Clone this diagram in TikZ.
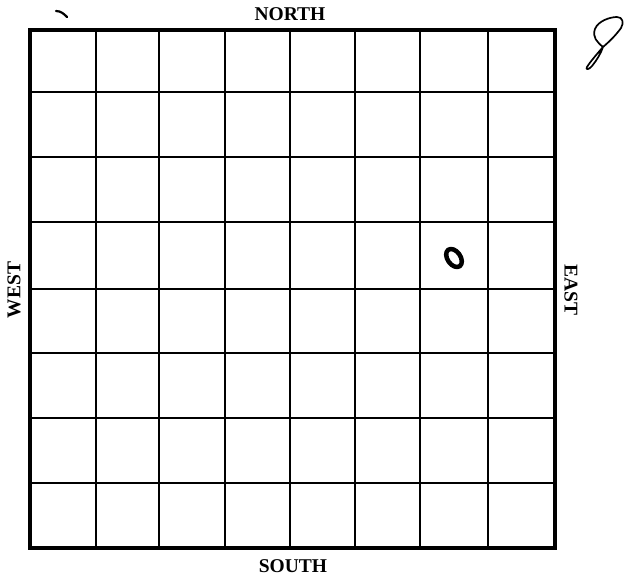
\documentclass[tikz,border=0pt]{standalone}
\usepackage{fontspec}
\setmainfont{Liberation Serif}
\begin{document}
\begin{tikzpicture}[x=1pt,y=-1pt,
  lbl/.style={font=\rmfamily\bfseries\fontsize{19.5}{19.5}\selectfont, inner sep=0pt, text=black},
  border/.style={line width=3.2pt, line join=miter},
  thickline/.style={line width=2.2pt},
  thinline/.style={line width=1.5pt},
  hand/.style={line width=2.2pt, line cap=round, line join=round}]
\useasboundingbox (0,0) rectangle (625,577);
% grid lines
\foreach \x in {159,290,420} \draw[thickline] (\x,30) -- (\x,548);
\foreach \x in {96,225,355,488} \draw[thinline] (\x,30) -- (\x,548);
\foreach \y in {157,289,418} \draw[thickline] (30,\y) -- (555,\y);
\foreach \y in {92,222,353,483} \draw[thinline] (30,\y) -- (555,\y);
\draw[border] (30,30) rectangle (555,548);
% labels
\node[lbl] (north) at (290,14) {NORTH};
\node[lbl] (south) at (293,566) {SOUTH};
\node[lbl, rotate=90] (west) at (14,290) {WEST};
\node[lbl, rotate=-90] (east) at (571,290) {EAST};
% handwritten marks
\draw[hand, line width=2.2pt] (56,11) .. controls (61,11) and (64,14) .. (67,17);
\draw[hand, line width=4.5pt, rotate around={35:(454,258)}] (454,258) ellipse (6.5pt and 10pt);
\draw[hand, line width=1.7pt]
  (603,47) .. controls (597,42) and (592,37) .. (595,29)
  .. controls (598,21) and (610,17) .. (617,17)
  .. controls (623,17) and (624,23) .. (621,28)
  .. controls (616,35) and (610,41) .. (603,47)
  .. controls (597,54) and (590,62) .. (587,67)
  .. controls (585,70) and (589,70) .. (592,66)
  .. controls (597,60) and (601,53) .. (603,47);
\end{tikzpicture}
\end{document}
